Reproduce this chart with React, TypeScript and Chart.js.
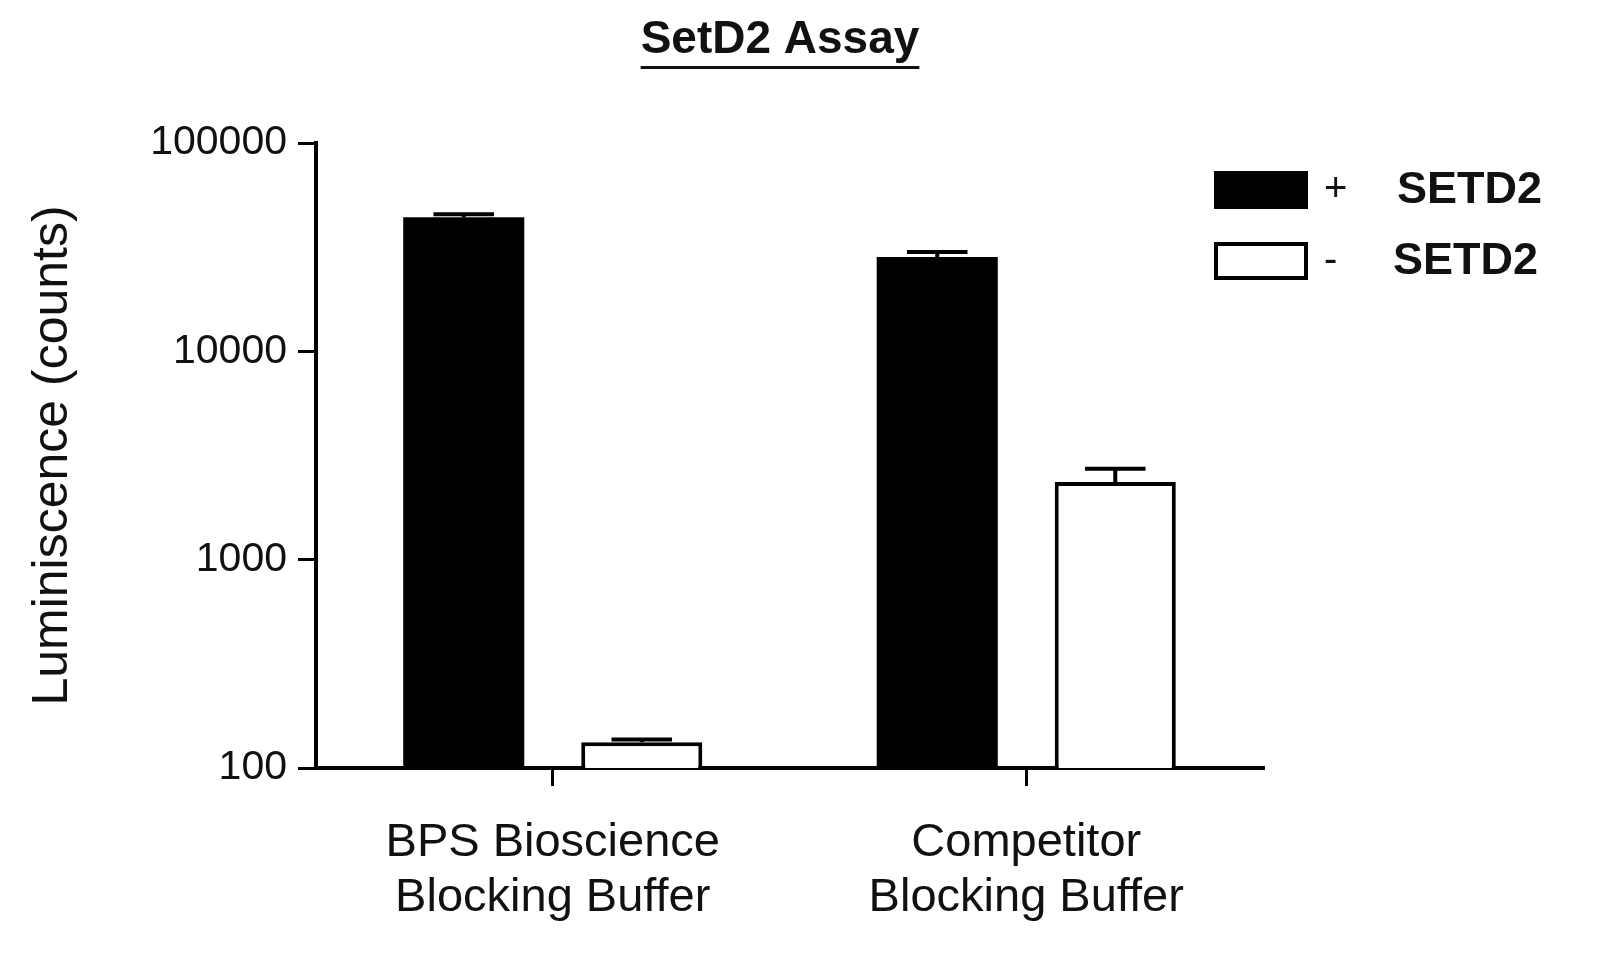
import { useEffect, useRef } from 'react';
import { Chart, registerables } from 'chart.js';

Chart.register(...registerables);

const categories = [['BPS Bioscience', 'Blocking Buffer'], ['Competitor', 'Blocking Buffer']];
const plusSetd2 = [44000, 28400];
const plusSetd2Err = [1500, 1600];
const minusSetd2 = [133, 2360];
const minusSetd2Err = [4, 370];
const yTicks = [100, 1000, 10000, 100000];
const legendSigns = ['+', '-'];
const seriesName = 'SETD2';
const chartTitle = 'SetD2 Assay';
const yTitle = 'Luminiscence (counts)';

const FONT = '"Liberation Sans", Arial, sans-serif';

// error bars (upper side only, like the original prism plot)
const errorBars = {
  id: 'errorBars',
  afterDatasetsDraw(chart) {
    const { ctx } = chart;
    const y = chart.scales.y;
    chart.data.datasets.forEach((ds, i) => {
      const meta = chart.getDatasetMeta(i);
      meta.data.forEach((bar, j) => {
        const v = ds.data[j];
        const err = ds.errors[j];
        const top = y.getPixelForValue(v + err);
        const half = bar.width / 4;
        ctx.save();
        ctx.strokeStyle = '#000';
        ctx.lineWidth = 4;
        ctx.beginPath();
        ctx.moveTo(bar.x, bar.y);
        ctx.lineTo(bar.x, top);
        ctx.moveTo(bar.x - half, top);
        ctx.lineTo(bar.x + half, top);
        ctx.stroke();
        ctx.restore();
      });
    });
  },
};

// underlined title + legend on the right
const decorations = {
  id: 'decorations',
  afterDraw(chart) {
    const { ctx } = chart;
    ctx.save();
    ctx.fillStyle = '#111';
    ctx.font = `bold 46px ${FONT}`;
    ctx.textAlign = 'center';
    ctx.textBaseline = 'alphabetic';
    ctx.fillText(chartTitle, 780, 53);
    const w = ctx.measureText(chartTitle).width;
    ctx.fillRect(780 - w / 2, 66, w, 3);

    const rows = [190, 261];
    chart.data.datasets.forEach((ds, i) => {
      const cy = rows[i];
      ctx.fillStyle = ds.backgroundColor;
      ctx.fillRect(1214, cy - 19, 94, 38);
      if (ds.borderWidth) {
        ctx.strokeStyle = ds.borderColor;
        ctx.lineWidth = 4;
        ctx.strokeRect(1216, cy - 17, 90, 34);
      }
      ctx.fillStyle = '#111';
      ctx.textAlign = 'left';
      ctx.textBaseline = 'middle';
      ctx.font = `40px ${FONT}`;
      ctx.fillText(legendSigns[i], 1324, cy);
      ctx.font = `bold 45px ${FONT}`;
      ctx.fillText(seriesName, i === 0 ? 1397 : 1393, cy + 1);
    });
    ctx.restore();
  },
};

const App = () => {
  const chartRef = useRef(null);
  const chartInstance = useRef(null);

  useEffect(() => {
    if (chartRef.current) {
      const ctx = chartRef.current.getContext('2d');
      if (chartInstance.current) {
        chartInstance.current.destroy();
      }

      chartInstance.current = new Chart(ctx, {
        type: 'bar',
        data: {
          labels: categories,
          datasets: [
            {
              label: '+ ' + seriesName,
              data: plusSetd2,
              errors: plusSetd2Err,
              backgroundColor: '#000',
              borderWidth: 0,
              barPercentage: 0.68,
              categoryPercentage: 0.752,
            },
            {
              label: '- ' + seriesName,
              data: minusSetd2,
              errors: minusSetd2Err,
              backgroundColor: '#fff',
              borderColor: '#000',
              borderWidth: 4,
              borderSkipped: 'bottom',
              barPercentage: 0.68,
              categoryPercentage: 0.752,
            },
          ],
        },
        options: {
          animation: false,
          responsive: false,
          devicePixelRatio: 1,
          layout: { padding: { left: 0, top: 143, right: 337, bottom: 0 } },
          plugins: {
            legend: { display: false },
            title: { display: false },
            tooltip: { enabled: false },
          },
          scales: {
            x: {
              afterFit: (scale) => { scale.height = 203; },
              grid: { drawOnChartArea: false, offset: false, color: '#000', lineWidth: 3, tickLength: 18 },
              border: { color: '#000', width: 4 },
              ticks: {
                color: '#111',
                padding: 30,
                font: { family: FONT, size: 47, lineHeight: 1.17 },
                maxRotation: 0,
                autoSkip: false,
              },
            },
            y: {
              type: 'logarithmic',
              min: 100,
              max: 100000,
              afterFit: (scale) => { scale.width = 316; },
              afterBuildTicks: (scale) => { scale.ticks = yTicks.map((v) => ({ value: v })); },
              grid: { drawOnChartArea: false, color: '#000', lineWidth: 3, tickLength: 18 },
              border: { color: '#000', width: 4 },
              ticks: {
                color: '#111',
                padding: 11,
                font: { family: FONT, size: 41 },
                callback: (v) => String(v),
              },
              title: {
                display: true,
                text: yTitle,
                color: '#111',
                font: { family: FONT, size: 50 },
                padding: { top: 23, bottom: 0 },
              },
            },
          },
        },
        plugins: [errorBars, decorations],
      });
    }

    return () => {
      if (chartInstance.current) {
        chartInstance.current.destroy();
        chartInstance.current = null;
      }
    };
  }, []);

  return (
    <div style={{ position: 'absolute', left: 0, top: 0, width: 1600, height: 971, background: '#fff' }}>
      <canvas ref={chartRef} width={1600} height={971} />
    </div>
  );
};

export default App;
